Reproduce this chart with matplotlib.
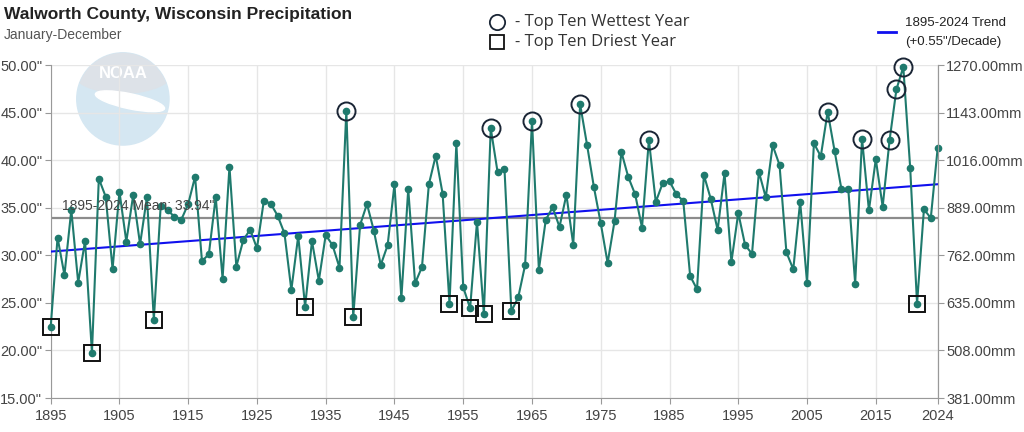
import numpy as np
import matplotlib.pyplot as plt
from matplotlib.patches import Circle, Ellipse

plt.rcParams['font.family'] = ['Liberation Sans', 'DejaVu Sans']

years = list(range(1895, 2025))
precip = [
    22.50, 31.86, 27.93, 34.76, 27.13, 31.50, 19.74, 38.06, 36.16, 28.56,  # 1895-1904
    36.69, 31.44, 36.34, 31.16, 36.13, 23.24, 35.22, 34.73, 34.06, 33.75,  # 1905-1914
    35.39, 38.27, 29.40, 30.10, 36.13, 27.55, 39.32, 28.81, 31.58, 32.70,  # 1915-1924
    30.74, 35.74, 35.43, 34.17, 32.31, 26.36, 32.03, 24.61, 31.50, 27.34,  # 1925-1934
    32.14, 31.05, 28.70, 45.20, 23.52, 33.19, 35.39, 32.59, 28.98, 31.05,  # 1935-1944
    37.46, 25.48, 36.97, 27.06, 28.77, 37.46, 40.47, 36.48, 24.92, 41.77,  # 1945-1954
    26.64, 24.43, 33.54, 23.84, 43.35, 38.72, 39.04, 24.12, 25.59, 28.98,  # 1955-1964
    44.12, 28.49, 33.71, 35.04, 32.98, 36.37, 31.12, 45.87, 41.63, 37.18,  # 1965-1974
    33.36, 29.19, 33.57, 40.86, 38.23, 36.41, 32.91, 42.12, 35.60, 37.57,  # 1975-1984
    37.78, 36.41, 35.71, 27.83, 26.43, 38.44, 35.92, 32.66, 38.62, 29.30,  # 1985-1994
    34.45, 31.05, 30.17, 38.76, 36.09, 41.56, 39.49, 30.31, 28.53, 35.64,  # 1995-2004
    27.13, 41.77, 40.40, 45.10, 41.00, 36.97, 36.97, 27.02, 42.26, 34.73,  # 2005-2014
    40.09, 35.11, 42.08, 47.44, 49.79, 39.21, 24.92, 34.83, 33.92, 41.28,  # 2015-2024
]
wettest_years = [1938, 1959, 1965, 1972, 1982, 2008, 2013, 2017, 2018, 2019]
driest_years = [1895, 1901, 1910, 1932, 1939, 1953, 1956, 1958, 1962, 2021]
mean_value = 33.94
xtick_years = [1895, 1905, 1915, 1925, 1935, 1945, 1955, 1965, 1975, 1985, 1995, 2005, 2015, 2024]
ytick_vals = [15, 20, 25, 30, 35, 40, 45, 50]

teal = '#1f7a6d'
grid_c = '#e6e6e6'
axis_c = '#999999'
txt_c = '#444444'

fig = plt.figure(figsize=(10.24, 4.32), dpi=100)

# faded NOAA logo behind the plot
logo = fig.add_axes([0.02, 0.662, 0.2, 0.218], zorder=0)
logo.set_xlim(-1, 1)
logo.set_ylim(-1, 1)
logo.set_aspect('equal')
logo.axis('off')
disc = Circle((0, 0), 0.98, color='#d5e7f2')
logo.add_patch(disc)
cap = Ellipse((0, 0.62), 2.2, 1.0, color='#dde2e8')
logo.add_patch(cap)
cap.set_clip_path(disc)
bird = Ellipse((0.15, -0.05), 1.5, 0.32, angle=-12, color='white')
logo.add_patch(bird)
bird.set_clip_path(disc)
logo.text(0, 0.55, 'NOAA', color='white', fontsize=12, fontweight='bold',
          ha='center', va='center')

ax = fig.add_axes([0.0495, 0.0787, 0.8662, 0.7708], zorder=1)
ax.patch.set_alpha(0)

yrs = np.array(years)
vals = np.array(precip)
slope, icpt = np.polyfit(yrs, vals, 1)

ax.axhline(mean_value, color='#8c8c8c', lw=1.6, zorder=2)
ax.plot([yrs[0], yrs[-1]], [icpt + slope * yrs[0], icpt + slope * yrs[-1]],
        color='#1010ee', lw=1.5, zorder=3)
ax.plot(yrs, vals, color=teal, lw=1.5, marker='o', markersize=4.5, zorder=4, clip_on=False)

wet_vals = [precip[years.index(y)] for y in wettest_years]
dry_vals = [precip[years.index(y)] for y in driest_years]
ax.plot(wettest_years, wet_vals, ls='none', marker='o', markersize=13,
        mfc='none', mec='#1a2535', mew=1.4, zorder=5, clip_on=False)
ax.plot(driest_years, dry_vals, ls='none', marker='s', markersize=12,
        mfc='none', mec='#111111', mew=1.4, zorder=5, clip_on=False)

ax.text(1896.6, mean_value + 1.2, f'1895-2024 Mean: {mean_value:.2f}"', color='#444444',
        fontsize=10, va='center', ha='left', zorder=6)

ax.set_xlim(1895, 2024)
ax.set_ylim(15, 50)
ax.set_xticks(xtick_years)
ax.set_yticks(ytick_vals)
ax.set_yticklabels([f'{v:.2f}"' for v in ytick_vals])
ax.grid(True, color=grid_c, lw=1)
ax.set_axisbelow(True)
ax.spines['top'].set_visible(False)
for s in ['left', 'bottom', 'right']:
    ax.spines[s].set_color(axis_c)
ax.tick_params(colors=axis_c, labelcolor=txt_c, labelsize=10.5, length=4)
ax.tick_params(axis='y', pad=2)
ax.tick_params(axis='x', pad=4)

ax2 = ax.twinx()
ax2.set_ylim(15 * 25.4, 50 * 25.4)
ax2.set_yticks([v * 25.4 for v in ytick_vals])
ax2.set_yticklabels([f'{v * 25.4:.2f}mm' for v in ytick_vals])
for s in ['top', 'left', 'bottom']:
    ax2.spines[s].set_visible(False)
ax2.spines['right'].set_color(axis_c)
ax2.tick_params(colors=axis_c, labelcolor=txt_c, labelsize=10.5, length=4, pad=2)

# header
fig.text(0.004, 0.967, 'Walworth County, Wisconsin Precipitation', fontsize=12.5,
         fontweight='bold', color='#222222', va='center')
fig.text(0.004, 0.919, 'January-December', fontsize=10, color='#555555', va='center')

fig.lines.append(plt.Line2D([0.4855], [0.948], marker='o', markersize=11, mfc='none',
                            mec='#1a2535', mew=1.3, transform=fig.transFigure))
fig.lines.append(plt.Line2D([0.4855], [0.903], marker='s', markersize=10, mfc='none',
                            mec='#111111', mew=1.3, transform=fig.transFigure))
fig.text(0.503, 0.948, '- Top Ten Wettest Year', fontsize=12, color='#333333',
         va='center', family=['Open Sans', 'DejaVu Sans'])
fig.text(0.503, 0.903, '- Top Ten Driest Year', fontsize=12, color='#333333',
         va='center', family=['Open Sans', 'DejaVu Sans'])

fig.lines.append(plt.Line2D([0.857, 0.875], [0.926, 0.926], color='#1010ee', lw=2,
                            transform=fig.transFigure))
fig.text(0.884, 0.947, '1895-2024 Trend', fontsize=9.5, color='#222222', va='center')
fig.text(0.884, 0.903, f'(+{slope * 10:.2f}"/Decade)', fontsize=9.5, color='#222222',
         va='center')

fig.savefig('out.png', dpi=100)
